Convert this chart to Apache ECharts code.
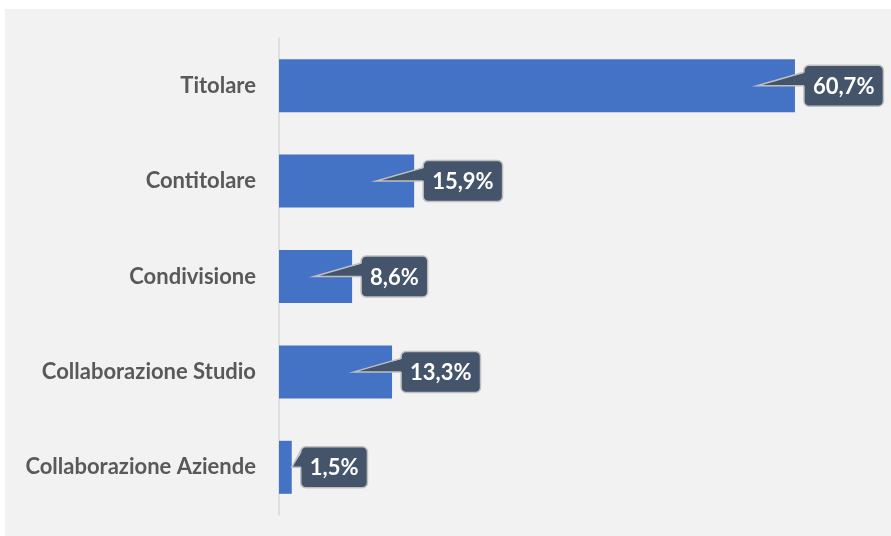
<!DOCTYPE html>
<html>
<head>
<meta charset="utf-8">
<script src="https://cdn.jsdelivr.net/npm/echarts@6/dist/echarts.min.js"></script>
<style>
  html, body { margin: 0; padding: 0; background: #ffffff; }
  #panel { position: absolute; left: 5px; top: 9px; width: 886px; height: 527px; background: #f2f2f2; }
  #chart { position: absolute; left: 0; top: 0; width: 891px; height: 536px; }
</style>
</head>
<body>
<div id="panel"></div>
<div id="chart"></div>
<script>
// Categories (top to bottom) and their shares in percent
const categories = ['Titolare', 'Contitolare', 'Condivisione', 'Collaborazione Studio', 'Collaborazione Aziende'];
const shares = [60.7, 15.9, 8.6, 13.3, 1.5];

const BAR_COLOR = '#4472c4';
const CALLOUT_FILL = '#44546a';
const CALLOUT_BORDER = '#c0c0c0';
const LABEL_FONT = 'bold 22px Lato';

const fmt = v => v.toFixed(1).replace('.', ',') + '%';

const measureCtx = document.createElement('canvas').getContext('2d');
function textWidth(str) {
  measureCtx.font = LABEL_FONT;
  return measureCtx.measureText(str).width;
}

// Callout bubble next to each bar end, with a wedge pointing back into the bar
function renderCallout(params, api) {
  const v = api.value(0);
  const idx = api.value(1);
  const end = api.coord([v, idx]);
  const start = api.coord([0, idx]);
  const cy = end[1];
  const txt = fmt(v);
  const tw = textWidth(txt);
  const padX = 9;
  const h = 41;
  const bx = end[0] + 9;
  const by = cy - h / 2;
  const bw = tw + padX * 2;
  const tipX = (end[0] - 38 > start[0] + 10) ? end[0] - 38 : end[0];
  const upperY = by + (tipX === end[0] ? 4 : 7);
  return {
    type: 'group',
    children: [
      {
        type: 'rect',
        shape: { x: bx, y: by, width: bw, height: h, r: 5 },
        style: { fill: CALLOUT_FILL, stroke: CALLOUT_BORDER, lineWidth: 1.5 }
      },
      {
        type: 'polygon',
        shape: { points: [[tipX, cy], [bx + 2, upperY], [bx + 2, cy]] },
        style: { fill: CALLOUT_FILL }
      },
      {
        type: 'polyline',
        shape: { points: [[bx, upperY], [tipX, cy], [bx, cy]] },
        style: { fill: null, stroke: CALLOUT_BORDER, lineWidth: 1.5 }
      },
      {
        type: 'text',
        style: {
          x: bx + bw / 2, y: cy + 1,
          text: txt,
          fill: '#ffffff',
          font: LABEL_FONT,
          align: 'center',
          verticalAlign: 'middle'
        }
      }
    ]
  };
}

const chart = echarts.init(document.getElementById('chart'), null, { renderer: 'canvas' });
chart.setOption({
  backgroundColor: 'transparent',
  animation: false,
  grid: { left: 279, top: 38, width: 595, height: 477, containLabel: false },
  xAxis: {
    type: 'value', min: 0, max: 70,
    show: false
  },
  yAxis: {
    type: 'category',
    data: categories,
    inverse: true,
    axisLine: { show: true, lineStyle: { color: '#d9d9d9', width: 1.5 } },
    axisTick: { show: false },
    axisLabel: {
      margin: 23,
      color: '#595959',
      fontFamily: 'Lato',
      fontWeight: 'bold',
      fontSize: 22
    }
  },
  series: [
    {
      type: 'bar',
      data: shares,
      barWidth: 53,
      itemStyle: { color: BAR_COLOR },
      z: 2
    },
    {
      type: 'custom',
      data: shares.map((v, i) => [v, i]),
      encode: { x: 0, y: 1 },
      renderItem: renderCallout,
      z: 5
    }
  ]
});
</script>
</body>
</html>
